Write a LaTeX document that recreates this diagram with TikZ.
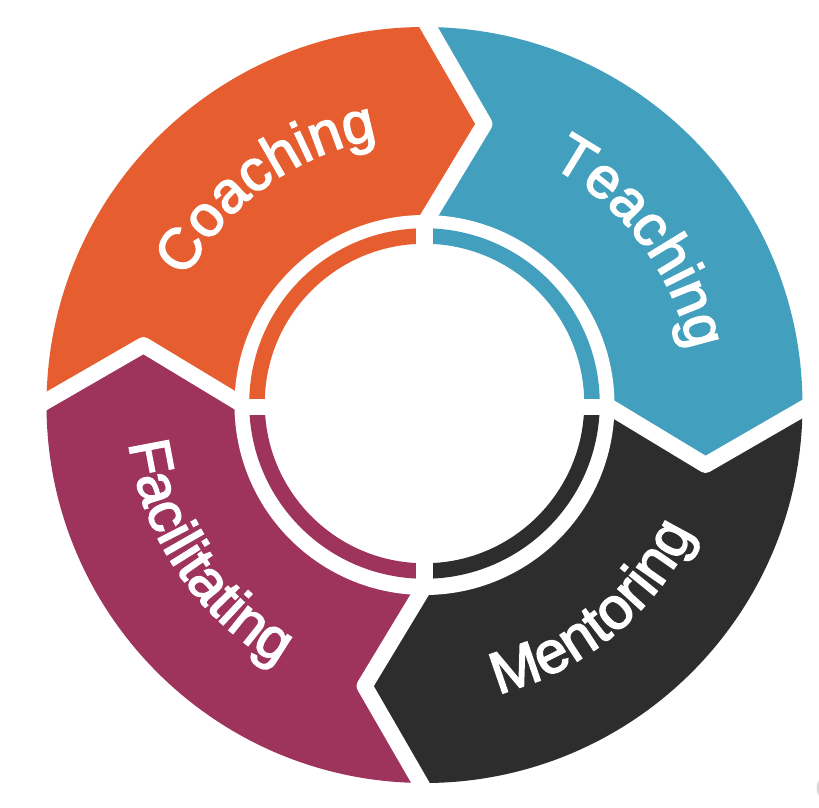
\documentclass[tikz,border=0pt]{standalone}
\usepackage{fontspec}
\setmainfont{Liberation Sans}
\newfontfamily\lblface[FakeBold=2.6]{Liberation Sans}
\usetikzlibrary{calc,decorations.text}
\definecolor{cOrange}{HTML}{E65D2F}
\definecolor{cTeal}{HTML}{42A0BE}
\definecolor{cDark}{HTML}{2D2D2D}
\definecolor{cMaroon}{HTML}{9E335B}
\newcommand\lblfont{\lblface\fontsize{58}{66}\selectfont}
\newcommand\lblfontb{\lblface\fontsize{59}{66}\selectfont}
\begin{document}
\begin{tikzpicture}[x=1pt,y=1pt,
  gapline/.style={draw=white, line width=16pt, line join=round},
  ringarc/.style={line width=15.5pt},
  ringgap/.style={draw=white, line width=16pt},
  lbl/.style={decorate, decoration={text along path, text align=center, text color=white, text={|\lblfont|#1}}},
  lblb/.style={decorate, decoration={text along path, text align=center, text color=white, text={|\lblfontb|#1}}}
]
\useasboundingbox (-424.5,-402) rectangle (394.5,405);
\fill[white] (-424.5,-402) rectangle (394.5,405);

% chevron boundaries between the four segments
\foreach \nm/\rot in {T/0, R/-90, B/180, L/90} {
  \begin{scope}[rotate=\rot]
    \coordinate (\nm-in)  at (5,190);
    \coordinate (\nm-tip) at (60,281);
    \coordinate (\nm-out) at (4,378);
    \coordinate (\nm-far) at (4,520);
  \end{scope}
}

% outer segments
\begin{scope}
  \clip (0,0) circle (378);
  \fill[cOrange] (0,0) -- (L-in) -- (L-tip) -- (L-out) -- (L-far) -- (135:720) -- (T-far) -- (T-out) -- (T-tip) -- (T-in) -- cycle;
  \fill[cTeal]   (0,0) -- (T-in) -- (T-tip) -- (T-out) -- (T-far) -- (45:720) -- (R-far) -- (R-out) -- (R-tip) -- (R-in) -- cycle;
  \fill[cDark]   (0,0) -- (R-in) -- (R-tip) -- (R-out) -- (R-far) -- (-45:720) -- (B-far) -- (B-out) -- (B-tip) -- (B-in) -- cycle;
  \fill[cMaroon] (0,0) -- (B-in) -- (B-tip) -- (B-out) -- (B-far) -- (-135:720) -- (L-far) -- (L-out) -- (L-tip) -- (L-in) -- cycle;
\end{scope}

% white gaps
\foreach \nm in {T,R,B,L}
  \draw[gapline] ($(\nm-tip)!1.2!(\nm-in)$) -- (\nm-tip) -- ($(\nm-tip)!1.3!(\nm-out)$);

\fill[white] (0,0) circle (190);

% inner ring
\begin{scope}[shift={(0,1.5)}]
  \draw[ringarc, cOrange] (180:167.5) arc[start angle=180, end angle=90, radius=167.5];
  \draw[ringarc, cTeal]   (90:167.5) arc[start angle=90, end angle=0, radius=167.5];
  \draw[ringarc, cDark]   (0:167.5) arc[start angle=0, end angle=-90, radius=167.5];
  \draw[ringarc, cMaroon] (-90:167.5) arc[start angle=-90, end angle=-180, radius=167.5];
\end{scope}
\draw[ringgap] (-186,-1.5) -- (186,-1.5);
\draw[ringgap] (0,-186) -- (0,186);

% labels
\path[lbl=Coaching] (171:270) arc[start angle=171, end angle=81, radius=270];
\path[lbl=Teaching] (82:270) arc[start angle=82, end angle=-8, radius=270];
\path[lblb=Mentoring] (-96:298) arc[start angle=-96, end angle=-5, radius=298];
\path[lbl=Facilitating] (169:298) arc[start angle=169, end angle=259, radius=298];

% small grey mark at the corner
\fill[gray!30] (406,-383) circle (14);
\end{tikzpicture}
\end{document}
